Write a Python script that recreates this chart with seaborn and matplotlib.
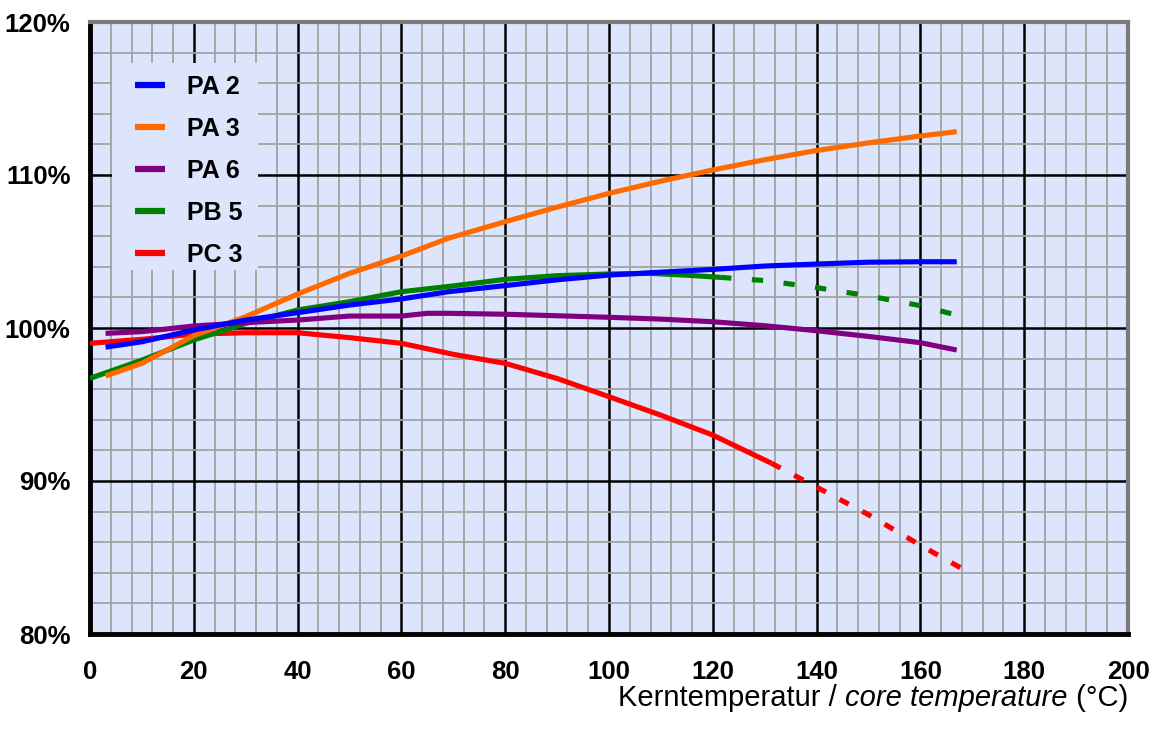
import numpy as np
import pandas as pd
import matplotlib
matplotlib.use("Agg")
import matplotlib.pyplot as plt
from matplotlib.lines import Line2D
from matplotlib.patches import Rectangle
from matplotlib.ticker import MultipleLocator, FuncFormatter
import seaborn as sns

# ---- data (percent values) ----
pa2_x = [3, 10, 20, 30, 40, 50, 60, 69, 80, 90, 100, 110, 120, 130, 140, 150, 160, 167]
pa2_y = [98.75, 99.1, 99.87, 100.52, 101.0, 101.5, 101.9, 102.37, 102.77, 103.15, 103.46, 103.65, 103.83, 104.05, 104.18, 104.3, 104.33, 104.33]

pa3_x = [3, 10, 20, 30, 40, 50, 60, 69, 80, 90, 100, 110, 120, 130, 140, 150, 160, 167]
pa3_y = [96.86, 97.69, 99.5, 100.74, 102.22, 103.57, 104.7, 105.86, 106.95, 107.9, 108.8, 109.6, 110.33, 111.0, 111.6, 112.1, 112.55, 112.83]

pa6_x = [3, 10, 20, 30, 40, 50, 60, 65, 69, 80, 90, 100, 110, 120, 130, 140, 150, 160, 167]
pa6_y = [99.65, 99.76, 100.13, 100.35, 100.52, 100.78, 100.78, 100.96, 100.96, 100.9, 100.8, 100.7, 100.58, 100.41, 100.15, 99.82, 99.45, 99.04, 98.56]

pb5_x = [0, 10, 20, 30, 40, 50, 60, 70, 80, 90, 100, 108, 115, 121.4]
pb5_y = [96.71, 97.9, 99.22, 100.3, 101.18, 101.72, 102.37, 102.75, 103.18, 103.42, 103.53, 103.57, 103.45, 103.31]
pb5_ext_x = [121.4, 130, 140, 150, 160, 169.4]
pb5_ext_y = [103.31, 103.1, 102.64, 102.1, 101.46, 100.63]

pc3_x = [0, 10, 20, 30, 40, 50, 60, 70, 80, 90, 100, 110, 120, 131.3]
pc3_y = [99.0, 99.26, 99.6, 99.69, 99.69, 99.37, 99.0, 98.28, 97.69, 96.7, 95.51, 94.3, 93.0, 91.16]
pc3_ext_x = [131.3, 140, 150, 160, 170]
pc3_ext_y = [91.16, 89.6, 87.8, 85.8, 83.9]

series_names = ["PA 2", "PA 3", "PA 6", "PB 5", "PC 3"]
series_colors = ["#0000FF", "#FF6A00", "#800080", "#008000", "#FF0000"]

x_ticks = [0, 20, 40, 60, 80, 100, 120, 140, 160, 180, 200]
y_ticks = [80, 90, 100, 110, 120]
x_label_plain = "Kerntemperatur / "
x_label_italic = "core temperature"
x_label_tail = " (°C)"

# ---- build frames ----
solid = pd.concat([
    pd.DataFrame({"x": pa2_x, "y": pa2_y, "s": "PA 2"}),
    pd.DataFrame({"x": pa3_x, "y": pa3_y, "s": "PA 3"}),
    pd.DataFrame({"x": pa6_x, "y": pa6_y, "s": "PA 6"}),
    pd.DataFrame({"x": pb5_x, "y": pb5_y, "s": "PB 5"}),
    pd.DataFrame({"x": pc3_x, "y": pc3_y, "s": "PC 3"}),
], ignore_index=True)
palette = dict(zip(series_names, series_colors))

sns.set_theme(style="white")
plt.rcParams["font.family"] = ["Liberation Sans", "DejaVu Sans"]
plt.rcParams["text.color"] = "black"
plt.rcParams["xtick.color"] = "black"
plt.rcParams["ytick.color"] = "black"

W, H = 1155, 729
fig = plt.figure(figsize=(W / 100, H / 100), dpi=100)
ax = fig.add_axes([90 / W, 1 - 634 / H, 1038 / W, 612 / H])
bg = "#DDE5FD"
ax.set_facecolor(bg)

lw = 3.7
order = ["PC 3", "PB 5", "PA 3", "PA 6", "PA 2"]
for name in order:
    d = solid[solid["s"] == name]
    sns.lineplot(data=d, x="x", y="y", color=palette[name], lw=lw, sort=False,
                 estimator=None, ax=ax, legend=False, zorder=3,
                 solid_capstyle="butt")

sns.lineplot(x=pb5_ext_x, y=pb5_ext_y, color=palette["PB 5"], lw=lw, sort=False,
             estimator=None, ax=ax, legend=False, zorder=3)
ax.lines[-1].set_dashes((2.2, 4.0))
sns.lineplot(x=pc3_ext_x, y=pc3_ext_y, color=palette["PC 3"], lw=lw, sort=False,
             estimator=None, ax=ax, legend=False, zorder=3)
ax.lines[-1].set_dashes((2.0, 3.0))

ax.set_xlim(0, 200)
ax.set_ylim(80, 120)
ax.set_xticks(x_ticks)
ax.set_yticks(y_ticks)
ax.xaxis.set_minor_locator(MultipleLocator(4))
ax.yaxis.set_minor_locator(MultipleLocator(2))
ax.yaxis.set_major_formatter(FuncFormatter(lambda v, p: f"{v:.0f}%"))
ax.set_axisbelow(True)
ax.grid(which="minor", color="#A3A3A3", lw=1.3)
ax.grid(which="major", color="black", lw=1.8)

ax.tick_params(axis="both", which="major", direction="out", length=6, width=3,
               color="black", labelsize=18.5, labelcolor="black")
ax.tick_params(axis="x", which="major", pad=13)
ax.tick_params(axis="y", which="major", pad=8)
ax.tick_params(which="minor", length=0)
for lab in ax.get_xticklabels() + ax.get_yticklabels():
    lab.set_fontweight("bold")

for side in ["left", "bottom"]:
    ax.spines[side].set_color("black")
    ax.spines[side].set_linewidth(3.5)
for side in ["top", "right"]:
    ax.spines[side].set_color("#7A7A7A")
    ax.spines[side].set_linewidth(3)

ax.set_xlabel("")
ax.set_ylabel("")

# x label with italic part, right aligned to axes edge
ylab = 1 - 698 / H
t3 = fig.text(1128 / W, ylab, x_label_tail, ha="right", va="center", fontsize=21, color="black")
fig.canvas.draw()
r = fig.canvas.get_renderer()
bb3 = t3.get_window_extent(r)
t2 = fig.text(bb3.x0 / fig.bbox.width, ylab, x_label_italic, ha="right", va="center",
              fontsize=21, style="italic", color="black")
bb2 = t2.get_window_extent(r)
fig.text(bb2.x0 / fig.bbox.width, ylab, x_label_plain, ha="right", va="center",
         fontsize=21, color="black")

# legend box
ax.add_patch(Rectangle(((112 - 90) / 1038, (634 - 270) / 612), (258 - 112) / 1038,
                       (270 - 63) / 612, transform=ax.transAxes, facecolor=bg,
                       edgecolor="none", zorder=4))
handles = [Line2D([0], [0], color=c, lw=4.5, solid_capstyle="butt") for c in series_colors]
leg = ax.legend(handles, series_names, loc="upper left",
                bbox_to_anchor=((135 - 90) / 1038, (634 - 75) / 612),
                borderaxespad=0, frameon=False, prop={"weight": "bold", "size": 18},
                handlelength=1.2, handletextpad=0.88, labelspacing=0.72,
                borderpad=0)
for t in leg.get_texts():
    t.set_color("black")
leg.set_zorder(5)

fig.savefig("out.png", dpi=100)
